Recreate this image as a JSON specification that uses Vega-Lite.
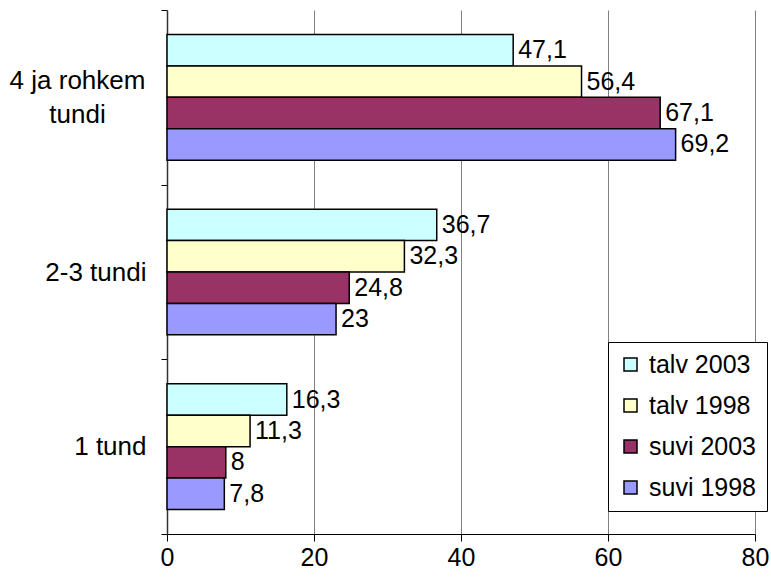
{
  "$schema": "https://vega.github.io/schema/vega-lite/v6.json",
  "width": 588,
  "height": 524,
  "autosize": "none",
  "padding": {"left": 167, "top": 10, "right": 16, "bottom": 49},
  "config": {
    "view": {"stroke": null},
    "font": "Liberation Sans",
    "locale": {"number": {"decimal": ",", "thousands": " ", "grouping": [3], "currency": ["", "€"]}}
  },
  "data": {
    "values": [
      {"category": "4 ja rohkem tundi", "series": "talv 2003", "value": 47.1},
      {"category": "4 ja rohkem tundi", "series": "talv 1998", "value": 56.4},
      {"category": "4 ja rohkem tundi", "series": "suvi 2003", "value": 67.1},
      {"category": "4 ja rohkem tundi", "series": "suvi 1998", "value": 69.2},
      {"category": "2-3 tundi", "series": "talv 2003", "value": 36.7},
      {"category": "2-3 tundi", "series": "talv 1998", "value": 32.3},
      {"category": "2-3 tundi", "series": "suvi 2003", "value": 24.8},
      {"category": "2-3 tundi", "series": "suvi 1998", "value": 23},
      {"category": "1 tund", "series": "talv 2003", "value": 16.3},
      {"category": "1 tund", "series": "talv 1998", "value": 11.3},
      {"category": "1 tund", "series": "suvi 2003", "value": 8},
      {"category": "1 tund", "series": "suvi 1998", "value": 7.8}
    ]
  },
  "encoding": {
    "y": {
      "field": "category",
      "type": "nominal",
      "sort": ["4 ja rohkem tundi", "2-3 tundi", "1 tund"],
      "scale": {"paddingInner": 0, "paddingOuter": 0},
      "axis": {
        "title": null,
        "tickBand": "extent",
        "tickSize": 6,
        "tickColor": "black",
        "domainColor": "#333333",
        "domainWidth": 1.5,
        "labelFontSize": 26,
        "labelColor": "black",
        "labelLineHeight": 34,
        "labelBaseline": "middle",
        "labelAlign": {"condition": {"test": "datum.value === '4 ja rohkem tundi'", "value": "center"}, "value": "right"},
        "labelPadding": {"condition": {"test": "datum.value === '4 ja rohkem tundi'", "value": 84}, "value": 15},
        "labelOffset": {"condition": {"test": "datum.value === '4 ja rohkem tundi'", "value": -17}, "value": 0},
        "labelExpr": "datum.value === '4 ja rohkem tundi' ? ['4 ja rohkem', 'tundi'] : datum.value",
        "labelLimit": 300,
        "grid": false
      }
    },
    "yOffset": {
      "field": "series",
      "type": "nominal",
      "sort": ["talv 2003", "talv 1998", "suvi 2003", "suvi 1998"],
      "scale": {"paddingInner": 0, "paddingOuter": 0.78}
    },
    "x": {
      "field": "value",
      "type": "quantitative",
      "scale": {"domain": [0, 80], "nice": false},
      "axis": {
        "title": null,
        "values": [0, 20, 40, 60, 80],
        "grid": true,
        "gridColor": "#808080",
        "gridWidth": 1,
        "domainColor": "black",
        "domainWidth": 1,
        "tickColor": "black",
        "tickSize": 7,
        "labelFontSize": 25,
        "labelColor": "black",
        "labelPadding": 4,
        "labelFlush": false,
        "labelOverlap": false
      }
    }
  },
  "layer": [
    {
      "mark": {"type": "bar", "stroke": "black", "strokeWidth": 1.5},
      "encoding": {
        "color": {
          "field": "series",
          "type": "nominal",
          "sort": ["talv 2003", "talv 1998", "suvi 2003", "suvi 1998"],
          "scale": {"domain": ["talv 2003", "talv 1998", "suvi 2003", "suvi 1998"], "range": ["#CCFFFF", "#FFFFCC", "#993366", "#9999FF"]},
          "legend": {
            "orient": "none",
            "legendX": 441,
            "legendY": 332,
            "title": null,
            "fillColor": "white",
            "strokeColor": "black",
            "padding": 10,
            "symbolType": "square",
            "symbolSize": 169,
            "symbolStrokeColor": "black",
            "symbolStrokeWidth": 1.5,
            "symbolOpacity": 1,
            "labelFontSize": 25,
            "labelColor": "black",
            "labelOffset": 6,
            "rowPadding": 15
          }
        }
      }
    },
    {
      "mark": {"type": "text", "align": "left", "baseline": "middle", "dx": 5, "fontSize": 25, "color": "black"},
      "encoding": {"text": {"field": "value", "type": "quantitative", "format": "~g"}}
    }
  ]
}
